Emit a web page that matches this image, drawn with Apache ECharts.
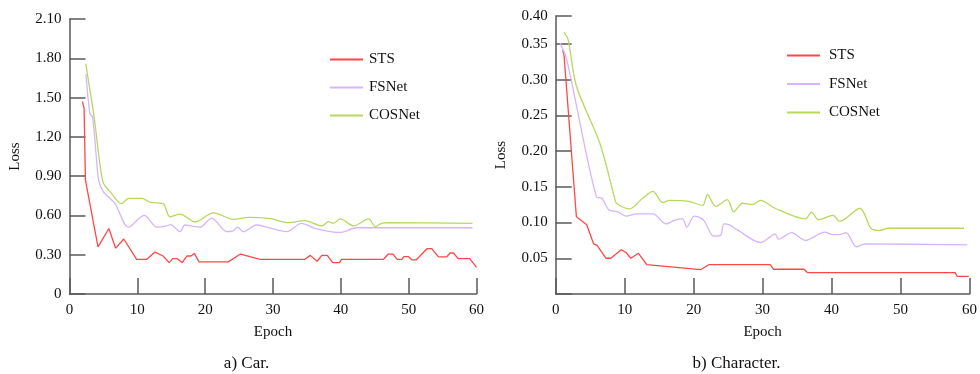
<!DOCTYPE html>
<html>
<head>
<meta charset="utf-8">
<script src="https://cdn.jsdelivr.net/npm/echarts@6/dist/echarts.min.js"></script>
<style>
  html, body { margin: 0; padding: 0; background: #fff; }
  #chart { width: 980px; height: 374px; }
</style>
</head>
<body>
<div id="chart"></div>
<script>
// ---------- Data ----------
const seriesNames = ['STS', 'FSNet', 'COSNet'];

// (a) Car
const carStsEpoch = [1.9, 2.15, 2.35, 4.2, 5.8, 6.8, 8.0, 9.9, 11.4, 12.6, 13.8, 14.7, 15.2, 15.9, 16.6, 17.3, 17.9, 18.4, 19.1, 23.4, 25.2, 26.6, 28.1, 34.7, 35.5, 36.5, 37.2, 38.0, 38.8, 39.8, 40.1, 46.3, 47.0, 47.7, 48.3, 49.0, 49.3, 50.0, 50.5, 51.1, 52.7, 53.4, 54.4, 55.6, 56.1, 56.6, 57.3, 59.0, 60.0];
const carStsLoss  = [1.47, 1.42, 0.87, 0.36, 0.50, 0.35, 0.42, 0.265, 0.265, 0.32, 0.29, 0.24, 0.27, 0.27, 0.24, 0.29, 0.29, 0.31, 0.245, 0.245, 0.305, 0.285, 0.265, 0.265, 0.295, 0.25, 0.295, 0.295, 0.24, 0.24, 0.265, 0.265, 0.305, 0.305, 0.265, 0.265, 0.285, 0.285, 0.26, 0.26, 0.346, 0.346, 0.283, 0.283, 0.313, 0.313, 0.27, 0.27, 0.204];

const carFsEpoch = [2.43, 3.0, 3.4, 3.95, 4.3, 5.0, 6.7, 8.7, 11.0, 12.9, 14.3, 14.9, 16.3, 17.0, 17.9, 19.2, 21.0, 21.7, 23.2, 24.0, 24.8, 25.6, 27.6, 29.1, 32.0, 34.2, 36.3, 39.9, 42.4, 59.4];
const carFsLoss  = [1.68, 1.38, 1.35, 1.05, 0.87, 0.78, 0.69, 0.51, 0.60, 0.51, 0.52, 0.53, 0.476, 0.527, 0.52, 0.51, 0.58, 0.55, 0.476, 0.48, 0.51, 0.476, 0.527, 0.51, 0.476, 0.54, 0.50, 0.47, 0.506, 0.506];

const carCosEpoch = [2.39, 3.66, 4.9, 6.0, 7.7, 8.7, 10.7, 11.9, 13.8, 14.8, 16.3, 18.5, 21.2, 24.2, 26.4, 29.6, 32.3, 34.7, 37.2, 38.2, 38.9, 39.9, 41.9, 44.1, 45.1, 46.0, 47.0, 59.4];
const carCosLoss  = [1.76, 1.34, 0.86, 0.78, 0.69, 0.73, 0.73, 0.70, 0.69, 0.59, 0.61, 0.55, 0.62, 0.57, 0.585, 0.575, 0.545, 0.56, 0.52, 0.552, 0.54, 0.573, 0.52, 0.573, 0.514, 0.54, 0.545, 0.54];

// (b) Character
const chStsEpoch = [1.0, 1.2, 3.0, 4.5, 5.5, 6.0, 7.3, 8.0, 9.5, 10.2, 10.9, 12.0, 13.2, 21.0, 22.2, 31.1, 31.6, 36.0, 36.5, 57.9, 58.2, 59.9];
const chStsLoss  = [0.341, 0.335, 0.108, 0.097, 0.070, 0.068, 0.050, 0.050, 0.062, 0.058, 0.050, 0.057, 0.041, 0.034, 0.041, 0.041, 0.0346, 0.0346, 0.030, 0.030, 0.0248, 0.0248];

const chFsEpoch = [0.62, 1.6, 5.9, 6.7, 7.7, 9.0, 10.2, 11.7, 14.1, 16.0, 17.2, 18.4, 19.0, 20.1, 21.4, 22.9, 23.9, 24.4, 25.1, 26.3, 29.7, 31.1, 31.8, 32.3, 34.2, 36.2, 39.0, 40.2, 41.1, 42.1, 43.6, 44.8, 59.7];
const chFsLoss  = [0.351, 0.328, 0.136, 0.134, 0.118, 0.115, 0.109, 0.112, 0.112, 0.098, 0.103, 0.105, 0.0935, 0.109, 0.104, 0.081, 0.082, 0.098, 0.097, 0.09, 0.072, 0.080, 0.084, 0.0767, 0.086, 0.075, 0.0865, 0.083, 0.083, 0.086, 0.066, 0.070, 0.0687];

const chCosEpoch = [1.2, 1.8, 3.0, 6.4, 8.5, 8.8, 10.7, 12.6, 14.1, 15.5, 16.5, 19.3, 21.3, 22.0, 23.2, 24.9, 25.8, 27.1, 28.5, 29.7, 31.8, 36.2, 37.1, 38.1, 40.2, 41.2, 44.1, 45.7, 46.9, 48.2, 59.2];
const chCosLoss  = [0.366, 0.356, 0.291, 0.211, 0.136, 0.127, 0.119, 0.134, 0.1435, 0.128, 0.131, 0.1295, 0.124, 0.139, 0.1225, 0.132, 0.115, 0.127, 0.125, 0.131, 0.120, 0.105, 0.1146, 0.104, 0.11, 0.1015, 0.120, 0.092, 0.0888, 0.092, 0.092];

// Axis ticks
const epochTicks = { min: 0, max: 60, interval: 10 };
const carLossTicks = { min: 0, max: 2.1, interval: 0.3 };
const chLossTicks = { min: 0, max: 0.389, interval: 0.05, topLabel: '0.40' };
const captions = ['a) Car.', 'b) Character.'];

// ---------- Styles ----------
const colors = ['#ff4747', '#d6b4ff', '#b7d85e'];
const axisColor = '#595959';
const font = 'Liberation Serif';
const textColor = '#111';

const zip = (a, b) => a.map((v, i) => [v, b[i]]);

function mkXAxis(gridIndex) {
  return {
    type: 'value', gridIndex,
    min: epochTicks.min, max: epochTicks.max, interval: epochTicks.interval,
    name: 'Epoch', nameLocation: 'middle', nameGap: 31,
    nameTextStyle: { fontFamily: font, fontSize: 15, color: textColor },
    axisLine: { show: true, onZero: false, lineStyle: { color: axisColor, width: 1.5 } },
    axisTick: { show: true, inside: true, length: 16, lineStyle: { color: axisColor, width: 1.5 } },
    axisLabel: { fontFamily: font, fontSize: 15, color: textColor, margin: 9 },
    splitLine: { show: false }
  };
}
function mkYAxis(gridIndex, t, fmt) {
  return {
    type: 'value', gridIndex,
    min: t.min, max: t.max, interval: t.interval,
    name: 'Loss', nameLocation: 'middle', nameGap: 47, nameRotate: 90,
    nameTextStyle: { fontFamily: font, fontSize: 15, color: textColor },
    axisLine: { show: true, onZero: false, lineStyle: { color: axisColor, width: 1.5 } },
    axisTick: { show: true, inside: true, length: 16, lineStyle: { color: axisColor, width: 1.5 } },
    axisLabel: { fontFamily: font, fontSize: 15, color: textColor, margin: 8, formatter: fmt, showMaxLabel: true },
    splitLine: { show: false }
  };
}
function mkSeries(name, data, idx, colorIdx, smooth) {
  return {
    name, type: 'line', xAxisIndex: idx, yAxisIndex: idx,
    data, symbol: 'none', showSymbol: false, smooth,
    lineStyle: { color: colors[colorIdx], width: 1.3 },
    itemStyle: { color: colors[colorIdx] },
    animation: false
  };
}
function mkLegend(left, top, gap, pad) {
  return {
    left, top, orient: 'vertical', itemWidth: 33, itemHeight: 14, itemGap: gap,
    data: seriesNames, icon: 'path://M0,6 L33,6 L33,8 L0,8 Z',
    textStyle: { fontFamily: font, fontSize: 15, color: textColor, padding: [0, 0, 0, pad] },
    selectedMode: false
  };
}
function mkCaption(text, cx) {
  return {
    text, left: cx, top: 355, textAlign: 'center', padding: 0,
    textStyle: { fontFamily: font, fontSize: 17, fontWeight: 'normal', color: textColor }
  };
}

const chart = echarts.init(document.getElementById('chart'), null, { renderer: 'canvas' });
chart.setOption({
  backgroundColor: '#fff',
  animation: false,
  color: colors,
  title: [mkCaption(captions[0], 246.5), mkCaption(captions[1], 736.5)],
  grid: [
    { left: 69.5, right: 503.5, top: 19, bottom: 80 },
    { left: 555.7, right: 7.7, top: 16, bottom: 80 }
  ],
  legend: [mkLegend(325, 47, 13, 1), mkLegend(782, 43, 13.5, 4)],
  xAxis: [mkXAxis(0), mkXAxis(1)],
  yAxis: [
    mkYAxis(0, carLossTicks, v => v === 0 ? '0' : v.toFixed(2)),
    mkYAxis(1, chLossTicks, v => v === 0 ? '' : (v > 0.36 ? chLossTicks.topLabel : v.toFixed(2)))
  ],
  series: [
    mkSeries('STS', zip(carStsEpoch, carStsLoss), 0, 0, false),
    mkSeries('FSNet', zip(carFsEpoch, carFsLoss), 0, 1, 0.3),
    mkSeries('COSNet', zip(carCosEpoch, carCosLoss), 0, 2, 0.3),
    mkSeries('STS', zip(chStsEpoch, chStsLoss), 1, 0, false),
    mkSeries('FSNet', zip(chFsEpoch, chFsLoss), 1, 1, 0.3),
    mkSeries('COSNet', zip(chCosEpoch, chCosLoss), 1, 2, 0.3)
  ]
});
</script>
</body>
</html>
